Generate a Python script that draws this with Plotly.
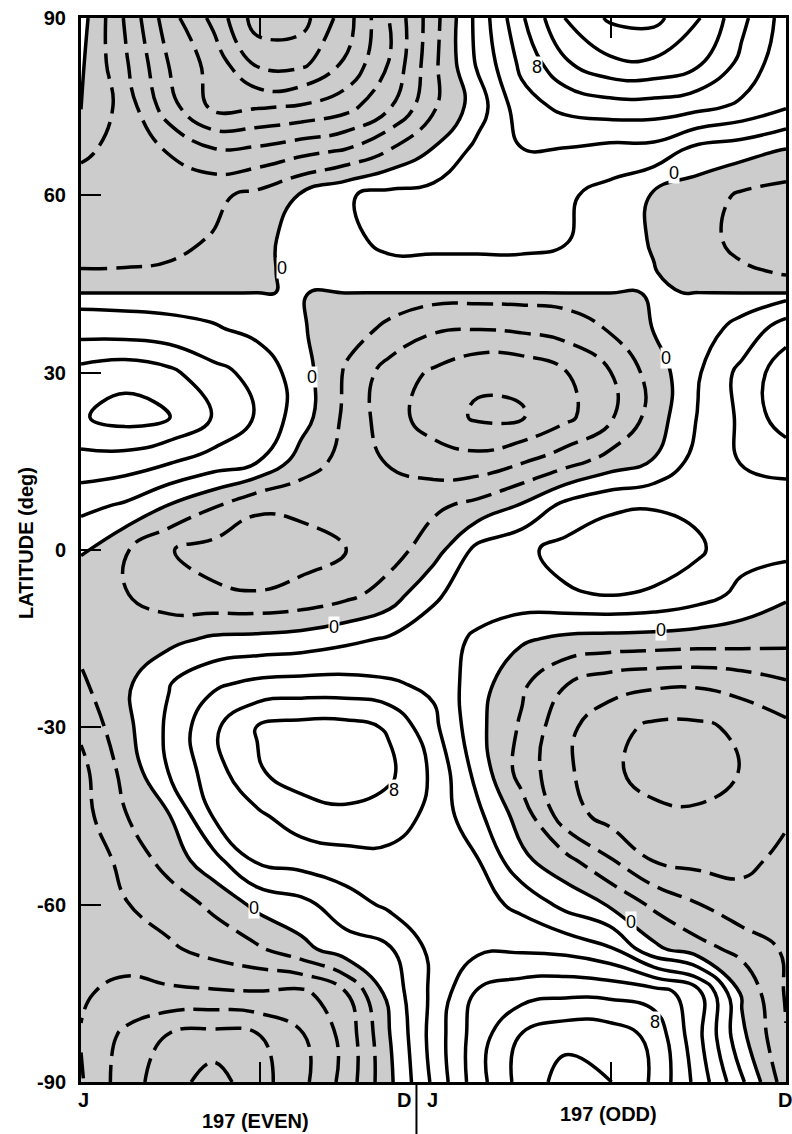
import plotly.graph_objects as go

# Time axis in months: 0 = January of the even year, 24 = end of the odd year
MONTHS = [0, 1.5, 3, 4.5, 6, 7.5, 9, 10.5, 12, 13.5, 15, 16.5, 18, 19.5, 21, 22.5, 24]

# Northern band (pole down to the 43.5N seam), rows listed north to south
LAT_NORTH = [90, 82.5, 75, 67.5, 60, 52.5, 47, 43.6]
FIELD_NORTH = [
    [0.8, -4.2, -9.2, -12.5, -17.0, -16.8, -13.0, -7.9, -2.8, 2.6, 7.7, 12.1, 14.3, 14.6, 12.2, 8.5, 5.1],
    [0.3, -3.7, -8.1, -10.8, -14.5, -14.6, -11.8, -7.9, -2.5, 2.3, 6.5, 9.8, 11.6, 11.7, 10.4, 7.5, 4.6],
    [0.1, -2.8, -7.2, -10.5, -10.2, -9.8, -8.8, -6.2, -2.3, 1.0, 5.2, 6.5, 7.1, 7.1, 6.6, 5.6, 4.2],
    [-1.6, -2.8, -4.1, -5.7, -5.5, -4.6, -3.8, -1.9, 0.2, 2.6, 3.9, 3.8, 3.3, 3.2, 1.2, 0.7, -0.2],
    [-3.1, -3.3, -3.1, -2.4, -1.5, 0.2, 1.8, 2.6, 2.7, 2.8, 2.8, 2.3, 1.3, -0.2, -1.0, -2.3, -2.8],
    [-2.8, -2.6, -2.4, -1.9, -0.7, 0.9, 1.6, 2.4, 2.4, 2.4, 2.4, 2.1, 1.1, -0.2, -1.5, -2.4, -2.8],
    [-1.9, -1.9, -1.8, -1.5, -0.6, 0.8, 1.5, 1.5, 1.5, 1.5, 1.5, 1.5, 1.2, 0.1, -1.1, -1.8, -2.1],
    [-1.5, -1.5, -1.5, -1.5, -0.6, 0.8, 1.2, 1.2, 1.2, 1.2, 1.2, 1.2, 1.1, 0.5, -0.3, -1.2, -1.4],
]

# Southern band (seam down to the south pole), rows listed north to south
LAT_SOUTH = [43.4, 37.5, 30, 22.5, 15, 7.5, 0, -7.5, -15, -22.5, -30, -37.5,
             -45, -52.5, -60, -67.5, -75, -82.5, -90]
FIELD_SOUTH = [
    [1.1, 1.1, 1.1, 0.9, 0.8, 0.2, -1.1, -1.2, -1.2, -1.2, -1.2, -1.1, -0.8, 0.3, 0.8, 1.1, 1.2],
    [3.1, 2.9, 2.6, 2.2, 1.4, 0.2, -1.3, -2.3, -3.7, -3.9, -3.6, -3.1, -1.8, 0.1, 1.3, 2.5, 5.1],
    [6.7, 7.3, 6.5, 4.6, 3.4, 0.9, -2.2, -4.9, -6.3, -7.6, -7.5, -6.1, -4.1, -1.1, 1.8, 4.6, 7.2],
    [7.8, 8.8, 8.05, 5.9, 3.8, 0.9, -2.4, -5.2, -6.9, -8.3, -8.2, -6.5, -4.4, -1.1, 2.1, 4.4, 7.2],
    [5.3, 5.1, 4.2, 3.2, 2.1, -0.9, -2.7, -4.2, -5.1, -5.3, -4.2, -2.8, -1.2, 0.1, 2.8, 4.1, 4.6],
    [2.6, 1.7, -0.1, -1.8, -3.7, -3.6, -3.1, -2.8, -2.4, -1.4, 0.2, 2.6, 3.7, 3.9, 3.6, 3.2, 3.1],
    [0.1, -1.8, -3.9, -4.7, -5.1, -4.7, -4.1, -2.9, -0.9, 2.6, 3.6, 4.6, 5.1, 4.9, 4.3, 2.7, 2.6],
    [-0.7, -1.9, -3.1, -3.7, -3.9, -3.5, -2.6, -1.1, 1.8, 2.7, 3.3, 3.8, 4.1, 3.8, 2.9, 1.5, 0.3],
    [-1.5, -1.3, -0.6, 0.3, 0.5, 0.8, 1.5, 2.2, 2.6, 1.8, 0.3, -0.4, -0.6, -0.7, -0.9, -1.1, -1.4],
    [-2.3, -0.4, 1.9, 3.6, 4.4, 4.6, 4.6, 4.2, 3.6, 0.9, -1.6, -3.9, -5.1, -5.6, -5.7, -5.1, -4.2],
    [-3.6, -0.6, 2.4, 5.6, 8.1, 8.7, 8.7, 7.8, 4.5, 0.6, -2.3, -5.5, -7.3, -8.4, -8.4, -7.6, -6.5],
    [-4.6, -1.4, 2.1, 5.1, 7.8, 8.9, 9.1, 8.4, 5.6, 1.3, -2.8, -5.6, -7.6, -8.8, -9.1, -7.9, -6.3],
    [-4.8, -2.1, -0.1, 4.1, 5.6, 7.1, 7.6, 7.1, 5.4, 2.5, -0.9, -5.1, -6.7, -7.5, -7.6, -7.1, -6.2],
    [-5.5, -3.4, -1.2, 1.3, 4.3, 4.8, 5.2, 5.4, 5.2, 4.1, 0.5, -1.4, -3.8, -6.1, -6.6, -6.4, -5.6],
    [-5.1, -4.1, -3.1, -1.6, 0.5, 1.4, 3.1, 4.4, 5.1, 4.8, 3.5, 1.4, -0.2, -2.4, -3.9, -5.4, -5.6],
    [-5.4, -5.2, -4.3, -3.3, -2.3, -0.6, 1.1, 1.8, 4.6, 5.6, 5.7, 5.4, 4.3, 0.5, -1.3, -2.6, -4.3],
    [-5.8, -6.5, -6.4, -6.3, -6.2, -6.6, -4.2, 0.7, 4.5, 8.3, 9.2, 9.6, 9.5, 9.1, 6.8, -0.3, -4.2],
    [-6.1, -8.5, -10.3, -10.9, -10.3, -8.3, -5.4, -0.1, 4.8, 9.1, 12.3, 13.5, 13.3, 11.5, 6.6, 0.5, -3.9],
    [-5.8, -9.1, -11.1, -12.9, -10.8, -8.6, -5.3, -0.4, 4.4, 9.2, 12.8, 14.8, 14.1, 11.7, 7.3, 2.3, -3.1],
]

# Contour interval and level ranges
LEVEL_STEP = 2
NEGATIVE_LEVELS = (-16, -2)
POSITIVE_LEVELS = (0, 16)

# In-line contour labels: text, month, latitude
CONTOUR_LABELS = [
    ("0", 6.85, 47.7), ("8", 15.53, 81.7), ("0", 20.2, 63.8),
    ("0", 7.86, 29.3), ("0", 19.93, 32.5), ("0", 8.61, -13.0),
    ("0", 19.73, -13.5), ("8", 10.64, -40.6), ("0", 5.9, -60.6),
    ("0", 18.71, -62.9), ("8", 19.53, -79.9),
]

MONTH_LABELS = [("J", 0.1), ("D", 10.98), ("J", 11.97), ("D", 23.97)]
YEAR_LABELS = [("197 (EVEN)", 5.93, -39), ("197 (ODD)", 17.97, -32)]
YEAR_BOUNDARY = 11.42
MID_YEAR_TICKS = [6.1, 18.03]
LAT_TICKS = [90, 60, 30, 0, -30, -60, -90]

FONT = "Liberation Sans, Arial, sans-serif"
STIPPLE = "#cccccc"
LINE_WIDTH = 3.5

# Assemble one grid, south to north
lats = (LAT_NORTH + LAT_SOUTH)[::-1]
field = (FIELD_NORTH + FIELD_SOUTH)[::-1]

common = dict(x=MONTHS, y=lats, z=field, showscale=False, hoverinfo="skip")

fig = go.Figure()

# Stippled (negative) regions: the constraint keeps z > 0 and shades the rest
fig.add_trace(go.Contour(
    **common,
    contours=dict(type="constraint", operation=">", value=0),
    fillcolor=STIPPLE,
    line=dict(width=0, smoothing=1.3),
))

# Negative isolines, dashed
fig.add_trace(go.Contour(
    **common,
    autocontour=False,
    contours=dict(start=NEGATIVE_LEVELS[0], end=NEGATIVE_LEVELS[1],
                  size=LEVEL_STEP, coloring="none"),
    line=dict(color="black", width=LINE_WIDTH, dash="26px,9px", smoothing=1.3),
))

# Zero and positive isolines, solid
fig.add_trace(go.Contour(
    **common,
    autocontour=False,
    contours=dict(start=POSITIVE_LEVELS[0], end=POSITIVE_LEVELS[1],
                  size=LEVEL_STEP, coloring="none"),
    line=dict(color="black", width=LINE_WIDTH, smoothing=1.3),
))

annotations = []
for text, m, lat in CONTOUR_LABELS:
    annotations.append(dict(
        x=m, y=lat, xref="x", yref="y", text=text, showarrow=False,
        font=dict(family=FONT, size=18, color="black"),
        bgcolor="white", borderpad=0,
    ))
for text, m in MONTH_LABELS:
    annotations.append(dict(
        x=m, y=0, xref="x", yref="paper", text=text, showarrow=False,
        yshift=-18, yanchor="middle",
        font=dict(family=FONT, size=20, color="black", weight="bold"),
    ))
for text, m, shift in YEAR_LABELS:
    annotations.append(dict(
        x=m, y=0, xref="x", yref="paper", text=text, showarrow=False,
        yshift=shift, yanchor="middle",
        font=dict(family=FONT, size=20, color="black", weight="bold"),
    ))
annotations.append(dict(
    x=-0.078, y=1.2, xref="paper", yref="y", text="LATITUDE (deg)",
    showarrow=False, textangle=-90, xanchor="center", yanchor="middle",
    font=dict(family=FONT, size=20, color="black", weight="bold"),
))

fig.update_layout(
    width=792, height=1134,
    margin=dict(l=81, r=3, t=18, b=52),
    paper_bgcolor="white", plot_bgcolor="white",
    showlegend=False,
    annotations=annotations,
    shapes=[dict(
        type="line", xref="x", yref="paper",
        x0=YEAR_BOUNDARY, x1=YEAR_BOUNDARY, y0=0, y1=-0.06,
        line=dict(color="black", width=2),
    )],
    xaxis=dict(
        range=[0, 24], showgrid=False, zeroline=False,
        showline=True, linecolor="black", linewidth=3, mirror="ticks",
        tickvals=MID_YEAR_TICKS, ticktext=["", ""],
        ticks="inside", ticklen=20, tickwidth=2, tickcolor="black",
    ),
    yaxis=dict(
        range=[-90, 90], showgrid=False, zeroline=False,
        showline=True, linecolor="black", linewidth=3, mirror=True,
        tickvals=LAT_TICKS, ticktext=[str(v) for v in LAT_TICKS],
        ticks="inside", ticklen=20, tickwidth=2, tickcolor="black",
        ticklabelstandoff=8,
        tickfont=dict(family=FONT, size=20, color="black", weight="bold"),
    ),
)

fig.write_html("out.html")
